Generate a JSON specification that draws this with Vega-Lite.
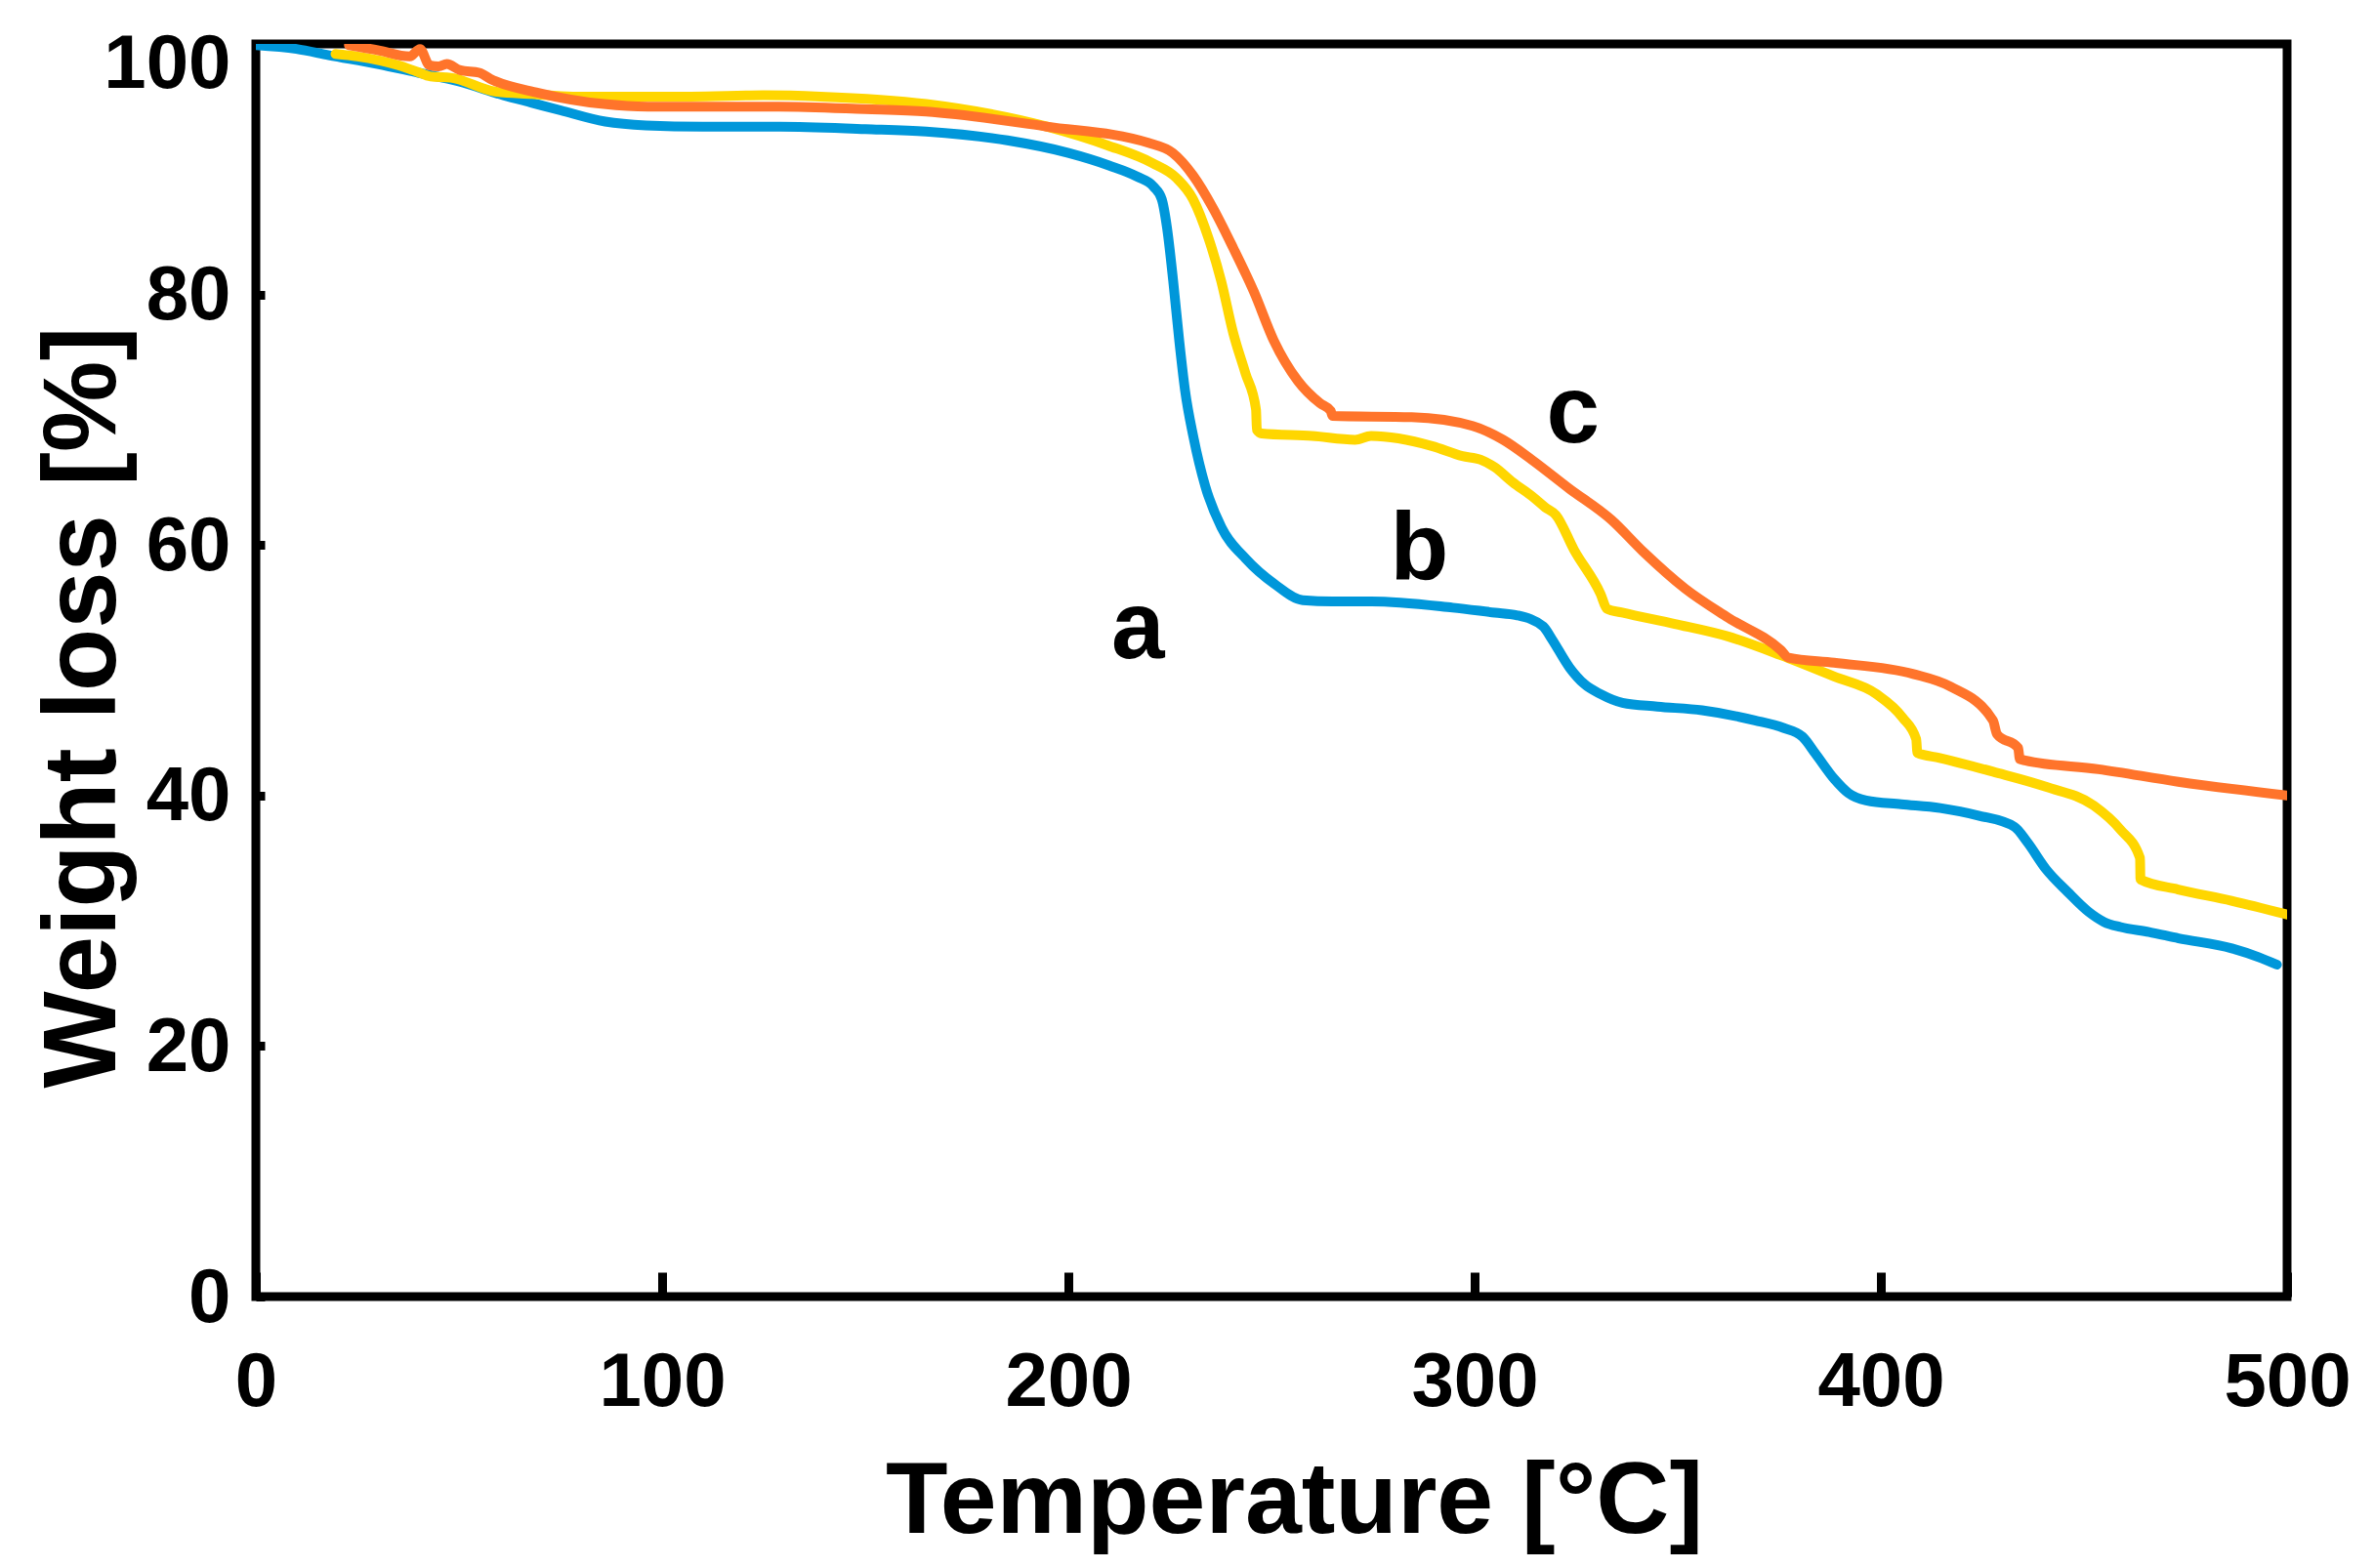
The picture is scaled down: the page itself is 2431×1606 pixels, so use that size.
{
  "$schema": "https://vega.github.io/schema/vega-lite/v6.json",
  "autosize": {"type": "none"},
  "width": 2080,
  "height": 1283,
  "padding": {"left": 262, "top": 45, "right": 89, "bottom": 278},
  "background": "white",
  "config": {
    "view": {"stroke": "black", "strokeWidth": 9},
    "font": "Liberation Sans",
    "axis": {
      "domain": false,
      "grid": false,
      "labelFlush": false,
      "tickColor": "black",
      "tickWidth": 9,
      "labelColor": "black",
      "labelFont": "Liberation Sans",
      "labelFontWeight": "bold",
      "labelFontSize": 78,
      "titleColor": "black",
      "titleFont": "Liberation Sans",
      "titleFontWeight": "bold",
      "titleFontSize": 105
    }
  },
  "layer": [
    {
      "data": {
        "values": [
          {"T": 0, "W": 99.9, "s": "a"}, {"T": 10, "W": 99.6, "s": "a"}, {"T": 18, "W": 99.1, "s": "a"},
          {"T": 30, "W": 98.4, "s": "a"}, {"T": 40, "W": 97.7, "s": "a"}, {"T": 50, "W": 97.0, "s": "a"},
          {"T": 61, "W": 95.9, "s": "a"}, {"T": 68, "W": 95.3, "s": "a"}, {"T": 75, "W": 94.7, "s": "a"},
          {"T": 86, "W": 93.8, "s": "a"}, {"T": 96, "W": 93.5, "s": "a"}, {"T": 110, "W": 93.4, "s": "a"},
          {"T": 129, "W": 93.4, "s": "a"}, {"T": 150, "W": 93.2, "s": "a"}, {"T": 165, "W": 93.0, "s": "a"},
          {"T": 185, "W": 92.3, "s": "a"}, {"T": 200, "W": 91.3, "s": "a"}, {"T": 210, "W": 90.3, "s": "a"},
          {"T": 217, "W": 89.4, "s": "a"}, {"T": 221, "W": 88.6, "s": "a"}, {"T": 223, "W": 87.6, "s": "a"},
          {"T": 224.3, "W": 85.3, "s": "a"}, {"T": 225.8, "W": 81.1, "s": "a"}, {"T": 227.3, "W": 76.3, "s": "a"},
          {"T": 228.7, "W": 72.4, "s": "a"}, {"T": 230.8, "W": 68.6, "s": "a"}, {"T": 233.7, "W": 64.7, "s": "a"},
          {"T": 237.7, "W": 61.4, "s": "a"}, {"T": 243.7, "W": 58.9, "s": "a"}, {"T": 250.7, "W": 56.9, "s": "a"},
          {"T": 257.7, "W": 55.6, "s": "a"}, {"T": 265, "W": 55.5, "s": "a"}, {"T": 274.6, "W": 55.5, "s": "a"},
          {"T": 294.6, "W": 55.0, "s": "a"}, {"T": 305, "W": 54.6, "s": "a"}, {"T": 310.3, "W": 54.4, "s": "a"},
          {"T": 316.9, "W": 53.5, "s": "a"}, {"T": 319, "W": 52.5, "s": "a"}, {"T": 323.4, "W": 50.2, "s": "a"},
          {"T": 327, "W": 48.9, "s": "a"}, {"T": 331, "W": 48.1, "s": "a"}, {"T": 336.4, "W": 47.4, "s": "a"},
          {"T": 345, "W": 47.1, "s": "a"}, {"T": 356, "W": 46.8, "s": "a"}, {"T": 369, "W": 46.0, "s": "a"},
          {"T": 376, "W": 45.4, "s": "a"}, {"T": 380.7, "W": 44.7, "s": "a"}, {"T": 384, "W": 43.3, "s": "a"},
          {"T": 388.6, "W": 41.3, "s": "a"}, {"T": 392, "W": 40.2, "s": "a"}, {"T": 396.4, "W": 39.6, "s": "a"},
          {"T": 405, "W": 39.3, "s": "a"}, {"T": 414.6, "W": 39.0, "s": "a"}, {"T": 424, "W": 38.4, "s": "a"},
          {"T": 432.9, "W": 37.5, "s": "a"}, {"T": 436, "W": 36.3, "s": "a"}, {"T": 440.7, "W": 34.1, "s": "a"},
          {"T": 446, "W": 32.3, "s": "a"}, {"T": 451.2, "W": 30.7, "s": "a"}, {"T": 455, "W": 29.9, "s": "a"},
          {"T": 459, "W": 29.5, "s": "a"}, {"T": 466, "W": 29.1, "s": "a"}, {"T": 473.3, "W": 28.6, "s": "a"},
          {"T": 486.4, "W": 27.8, "s": "a"}, {"T": 493, "W": 27.1, "s": "a"}, {"T": 497.5, "W": 26.5, "s": "a"},

          {"T": 19.6, "W": 99.2, "s": "b"}, {"T": 25, "W": 99.0, "s": "b"}, {"T": 35, "W": 98.3, "s": "b"},
          {"T": 39.5, "W": 97.8, "s": "b"}, {"T": 43, "W": 97.4, "s": "b"}, {"T": 48, "W": 97.3, "s": "b"},
          {"T": 58.8, "W": 96.2, "s": "b"}, {"T": 68, "W": 96.0, "s": "b"}, {"T": 78, "W": 95.8, "s": "b"},
          {"T": 107, "W": 95.8, "s": "b"}, {"T": 125, "W": 95.9, "s": "b"}, {"T": 139, "W": 95.8, "s": "b"},
          {"T": 165, "W": 95.2, "s": "b"}, {"T": 194.7, "W": 93.4, "s": "b"}, {"T": 209.7, "W": 91.9, "s": "b"},
          {"T": 220.6, "W": 90.5, "s": "b"}, {"T": 226.6, "W": 89.3, "s": "b"}, {"T": 230.7, "W": 87.6, "s": "b"},
          {"T": 234.6, "W": 84.4, "s": "b"}, {"T": 237.6, "W": 81.1, "s": "b"}, {"T": 240.6, "W": 76.9, "s": "b"},
          {"T": 243.6, "W": 73.7, "s": "b"}, {"T": 246.2, "W": 70.8, "s": "b"}, {"T": 246.4, "W": 69.2, "s": "b"},
          {"T": 247.6, "W": 68.9, "s": "b"}, {"T": 260, "W": 68.7, "s": "b"}, {"T": 270.6, "W": 68.4, "s": "b"},
          {"T": 274.5, "W": 68.7, "s": "b"}, {"T": 289.5, "W": 67.9, "s": "b"}, {"T": 297, "W": 67.1, "s": "b"},
          {"T": 301.5, "W": 66.8, "s": "b"}, {"T": 305, "W": 66.2, "s": "b"}, {"T": 309.4, "W": 65.0, "s": "b"},
          {"T": 314.1, "W": 63.9, "s": "b"}, {"T": 317.4, "W": 63.0, "s": "b"}, {"T": 320, "W": 62.4, "s": "b"},
          {"T": 324.5, "W": 59.6, "s": "b"}, {"T": 331, "W": 56.1, "s": "b"}, {"T": 332.6, "W": 54.9, "s": "b"},
          {"T": 336.3, "W": 54.6, "s": "b"}, {"T": 349.3, "W": 53.7, "s": "b"}, {"T": 362.4, "W": 52.7, "s": "b"},
          {"T": 375.4, "W": 51.2, "s": "b"}, {"T": 388.5, "W": 49.5, "s": "b"}, {"T": 398.9, "W": 48.1, "s": "b"},
          {"T": 405.4, "W": 46.2, "s": "b"}, {"T": 408.7, "W": 44.5, "s": "b"}, {"T": 409, "W": 43.4, "s": "b"},
          {"T": 414.5, "W": 43.0, "s": "b"}, {"T": 427.6, "W": 41.9, "s": "b"}, {"T": 440.6, "W": 40.7, "s": "b"},
          {"T": 452.4, "W": 39.2, "s": "b"}, {"T": 458.9, "W": 37.3, "s": "b"}, {"T": 463.8, "W": 35.0, "s": "b"},
          {"T": 463.9, "W": 33.3, "s": "b"}, {"T": 473.2, "W": 32.5, "s": "b"}, {"T": 486.3, "W": 31.6, "s": "b"},
          {"T": 500, "W": 30.5, "s": "b"},

          {"T": 22.9, "W": 99.9, "s": "c"}, {"T": 30, "W": 99.5, "s": "c"}, {"T": 37.9, "W": 99.0, "s": "c"},
          {"T": 40.4, "W": 99.6, "s": "c"}, {"T": 42.7, "W": 98.3, "s": "c"}, {"T": 45, "W": 98.2, "s": "c"},
          {"T": 47, "W": 98.4, "s": "c"}, {"T": 50.3, "W": 97.9, "s": "c"}, {"T": 55, "W": 97.7, "s": "c"},
          {"T": 57.8, "W": 97.2, "s": "c"}, {"T": 69.5, "W": 96.1, "s": "c"}, {"T": 85.7, "W": 95.2, "s": "c"},
          {"T": 96.5, "W": 95.0, "s": "c"}, {"T": 128.7, "W": 95.0, "s": "c"}, {"T": 150, "W": 94.8, "s": "c"},
          {"T": 165, "W": 94.6, "s": "c"}, {"T": 194.7, "W": 93.4, "s": "c"}, {"T": 219.7, "W": 92.1, "s": "c"},
          {"T": 225.7, "W": 91.3, "s": "c"}, {"T": 230.7, "W": 89.5, "s": "c"}, {"T": 235.6, "W": 86.9, "s": "c"},
          {"T": 240.6, "W": 83.7, "s": "c"}, {"T": 245.7, "W": 80.2, "s": "c"}, {"T": 250.6, "W": 76.3, "s": "c"},
          {"T": 256.5, "W": 73.1, "s": "c"}, {"T": 262, "W": 71.3, "s": "c"}, {"T": 264.6, "W": 70.7, "s": "c"},
          {"T": 265, "W": 70.3, "s": "c"}, {"T": 284.5, "W": 70.2, "s": "c"}, {"T": 299.5, "W": 69.5, "s": "c"},
          {"T": 307, "W": 68.4, "s": "c"}, {"T": 314.1, "W": 66.8, "s": "c"}, {"T": 323.3, "W": 64.5, "s": "c"},
          {"T": 333.7, "W": 62.0, "s": "c"}, {"T": 341.4, "W": 59.5, "s": "c"}, {"T": 351.9, "W": 56.5, "s": "c"},
          {"T": 362.4, "W": 54.2, "s": "c"}, {"T": 375.4, "W": 51.6, "s": "c"}, {"T": 377.3, "W": 51.0, "s": "c"},
          {"T": 388.5, "W": 50.6, "s": "c"}, {"T": 408, "W": 49.7, "s": "c"}, {"T": 417.1, "W": 48.7, "s": "c"},
          {"T": 427.6, "W": 46.0, "s": "c"}, {"T": 428.6, "W": 44.9, "s": "c"}, {"T": 433.8, "W": 43.8, "s": "c"},
          {"T": 434.2, "W": 42.9, "s": "c"}, {"T": 435.5, "W": 42.8, "s": "c"}, {"T": 453.6, "W": 42.1, "s": "c"},
          {"T": 473.2, "W": 41.1, "s": "c"}, {"T": 500, "W": 40.0, "s": "c"}
        ]
      },
      "mark": {"type": "line", "interpolate": "monotone", "strokeWidth": 10, "strokeCap": "round", "strokeJoin": "round", "clip": true},
      "encoding": {
        "x": {
          "field": "T", "type": "quantitative",
          "scale": {"domain": [0, 500], "nice": false},
          "axis": {
            "values": [0, 100, 200, 300, 400, 500],
            "tickSize": -25,
            "labelPadding": 74,
            "title": "Temperature [°C]",
            "titleFontSize": 104,
            "titleBaseline": "alphabetic",
            "titleX": 1063,
            "titleY": 241
          }
        },
        "y": {
          "field": "W", "type": "quantitative",
          "scale": {"domain": [0, 100], "nice": false},
          "axis": {
            "values": [0, 20, 40, 60, 80, 100],
            "tickSize": -9,
            "labelPadding": 35,
            "labelOffset": {"condition": {"test": "datum.value === 100", "value": 21}, "value": 2},
            "title": "Weight loss [%]",
            "titleBaseline": "alphabetic",
            "titleX": -145,
            "titleY": 679
          }
        },
        "color": {
          "field": "s", "type": "nominal", "legend": null,
          "scale": {"domain": ["a", "b", "c"], "range": ["#0097DA", "#FFD600", "#FF742B"]}
        }
      }
    },
    {
      "data": {
        "values": [
          {"T": 217.1, "W": 51.0, "label": "a"},
          {"T": 286.4, "W": 57.3, "label": "b"},
          {"T": 324.2, "W": 68.2, "label": "c"}
        ]
      },
      "mark": {"type": "text", "font": "Liberation Sans", "fontWeight": "bold", "fontSize": 98, "align": "center", "baseline": "alphabetic", "color": "black"},
      "encoding": {
        "x": {"field": "T", "type": "quantitative"},
        "y": {"field": "W", "type": "quantitative"},
        "text": {"field": "label"}
      }
    }
  ]
}
